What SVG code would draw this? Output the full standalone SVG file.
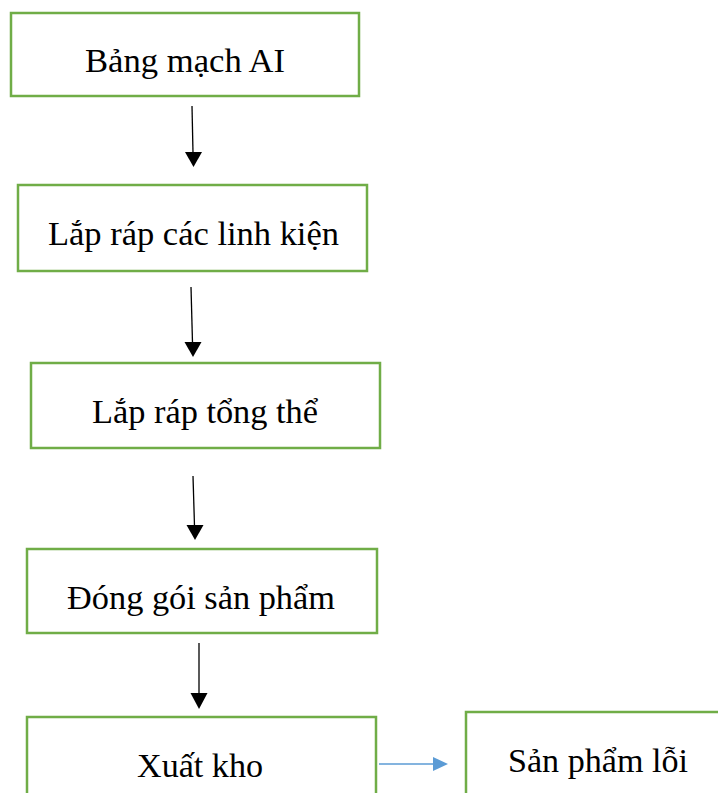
<svg xmlns="http://www.w3.org/2000/svg" width="718" height="793" viewBox="0 0 718 793">
  <style>
    .box { fill: #ffffff; stroke: #70AD47; stroke-width: 2.5; }
    .label { font-family: "Liberation Serif", "Times New Roman", serif; font-size: 33px; fill: #000000; text-anchor: middle; }
    .flow { stroke: #000000; stroke-width: 1.3; fill: none; }
    .head { fill: #000000; }
    .side { stroke: #5B9BD5; stroke-width: 1.5; fill: none; }
    .side-head { fill: #5B9BD5; }
  </style>
  <rect width="718" height="793" fill="#ffffff"/>

  <g id="connectors">
    <line class="flow" x1="192" y1="106" x2="193" y2="153"/>
    <polygon class="head" points="185,152 202,152 193.5,167"/>
    <line class="flow" x1="191" y1="287" x2="192.5" y2="343"/>
    <polygon class="head" points="184.5,342 201.5,342 193,357"/>
    <line class="flow" x1="193" y1="476" x2="194.5" y2="526"/>
    <polygon class="head" points="186.5,525 203.5,525 195,540"/>
    <line class="flow" x1="199" y1="643" x2="199" y2="694"/>
    <polygon class="head" points="190.5,693 207.5,693 199,709"/>
    <line class="side" x1="379" y1="764" x2="434" y2="764"/>
    <polygon class="side-head" points="433,757 448,764 433,771"/>
  </g>

  <g id="node-bang-mach">
    <rect class="box" x="11" y="13" width="348" height="83"/>
    <text class="label" x="185" y="72" textLength="200" lengthAdjust="spacingAndGlyphs">Bảng mạch AI</text>
  </g>

  <g id="node-lap-rap-linh-kien">
    <rect class="box" x="18" y="185" width="349" height="86"/>
    <text class="label" x="193.5" y="245" textLength="291" lengthAdjust="spacingAndGlyphs">Lắp ráp các linh kiện</text>
  </g>

  <g id="node-lap-rap-tong-the">
    <rect class="box" x="31" y="363" width="349" height="85"/>
    <text class="label" x="205" y="423" textLength="226" lengthAdjust="spacingAndGlyphs">Lắp ráp tổng thể</text>
  </g>

  <g id="node-dong-goi">
    <rect class="box" x="27" y="549" width="350" height="84"/>
    <text class="label" x="201" y="609" textLength="268" lengthAdjust="spacingAndGlyphs">Đóng gói sản phẩm</text>
  </g>

  <g id="node-xuat-kho">
    <rect class="box" x="27" y="717" width="349" height="100"/>
    <text class="label" x="200" y="777" textLength="126" lengthAdjust="spacingAndGlyphs">Xuất kho</text>
  </g>

  <g id="node-san-pham-loi">
    <rect class="box" x="466" y="712" width="300" height="100"/>
    <text class="label" x="598" y="772" textLength="180" lengthAdjust="spacingAndGlyphs">Sản phẩm lỗi</text>
  </g>
</svg>
